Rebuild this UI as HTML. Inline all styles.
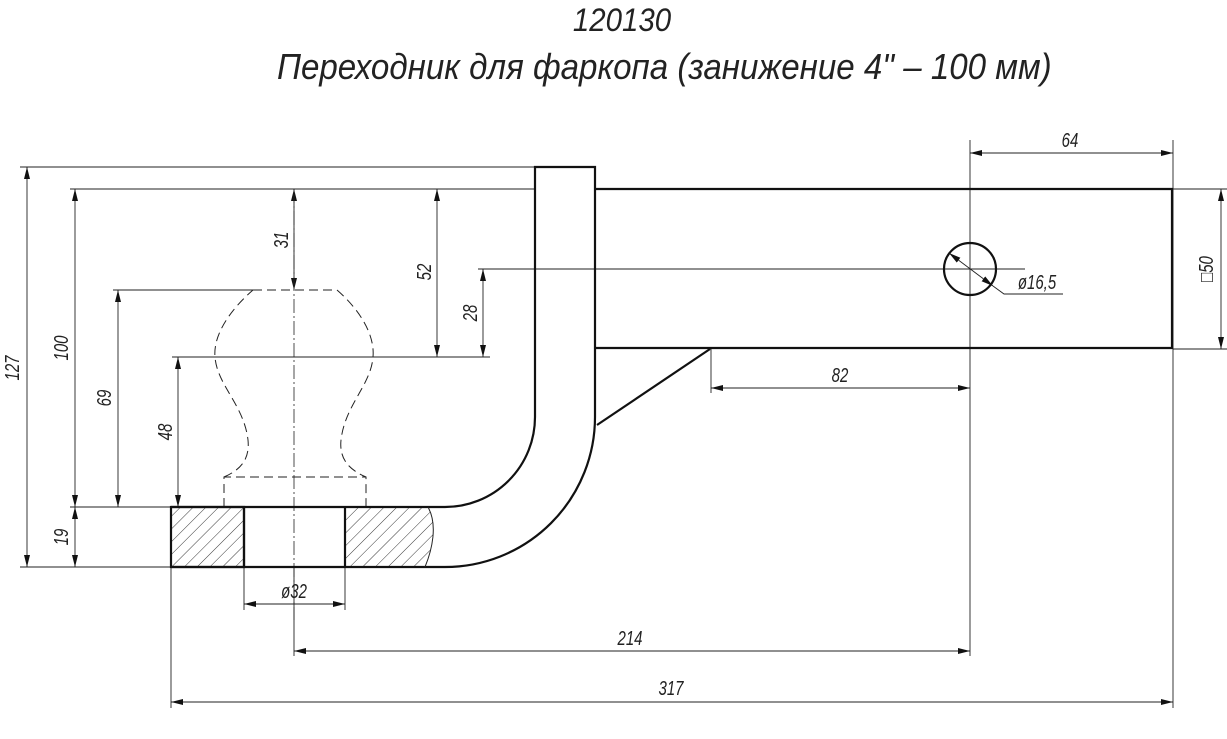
<!DOCTYPE html>
<html><head><meta charset="utf-8"><style>
html,body{margin:0;padding:0;background:#fff;}
svg{display:block;}
text{font-family:"Liberation Sans",sans-serif;font-style:italic;fill:#222;}
</style></head><body>
<svg width="1227" height="739" viewBox="0 0 1227 739" xmlns="http://www.w3.org/2000/svg">
<defs>
<pattern id="h" patternUnits="userSpaceOnUse" width="9" height="9" patternTransform="rotate(45)">
<line x1="0" y1="0" x2="0" y2="9" stroke="#222" stroke-width="0.9"/>
</pattern>
<marker id="a" viewBox="0 0 12 6" refX="12" refY="3" markerWidth="12" markerHeight="6" orient="auto-start-reverse" markerUnits="userSpaceOnUse">
<path d="M0,0 L12,3 L0,6 Z" fill="#111"/>
</marker>
</defs>
<g transform="translate(622,0) scale(0.92,1)">
<text x="0" y="31" font-size="32" text-anchor="middle">120130</text>
<text x="46" y="79" font-size="36" text-anchor="middle">Переходник для фаркопа (занижение 4" – 100 мм)</text>
</g>

<g stroke="#222" stroke-width="0.9" fill="none">
<line x1="20" y1="167" x2="535" y2="167"/>
<line x1="70" y1="189" x2="535" y2="189"/>
<line x1="113" y1="290" x2="253" y2="290"/>
<line x1="172" y1="357" x2="490" y2="357"/>
<line x1="478" y1="269" x2="1025" y2="269"/>
<line x1="70" y1="507" x2="171" y2="507"/>
<line x1="20" y1="567" x2="171" y2="567"/>
<line x1="171" y1="567" x2="171" y2="708"/>
<line x1="244" y1="567" x2="244" y2="610"/>
<line x1="345" y1="567" x2="345" y2="610"/>
<line x1="970" y1="140" x2="970" y2="656"/>
<line x1="1173" y1="140" x2="1173" y2="708"/>
<line x1="1173" y1="189" x2="1227" y2="189"/>
<line x1="1173" y1="349" x2="1227" y2="349"/>
<line x1="711" y1="349" x2="711" y2="393"/>
<line x1="294" y1="567" x2="294" y2="656"/>
</g>
<g stroke="#222" stroke-width="0.9" fill="none" marker-start="url(#a)" marker-end="url(#a)">
<line x1="27" y1="167" x2="27" y2="567"/>
<line x1="75" y1="189" x2="75" y2="507"/>
<line x1="294" y1="189" x2="294" y2="290"/>
<line x1="437" y1="189" x2="437" y2="357"/>
<line x1="483" y1="269" x2="483" y2="357"/>
<line x1="118" y1="290" x2="118" y2="507"/>
<line x1="178" y1="357" x2="178" y2="507"/>
<line x1="75" y1="507" x2="75" y2="567"/>
<line x1="970" y1="153" x2="1173" y2="153"/>
<line x1="1221" y1="189" x2="1221" y2="349"/>
<line x1="711" y1="388" x2="970" y2="388"/>
<line x1="244" y1="604" x2="345" y2="604"/>
<line x1="294" y1="651" x2="970" y2="651"/>
<line x1="171" y1="702" x2="1173" y2="702"/>
<line x1="949" y1="253" x2="993" y2="286"/>
</g>
<polyline points="993,286 1004,294 1063,294" stroke="#222" stroke-width="0.9" fill="none"/>

<line x1="294" y1="189" x2="294" y2="620" stroke="#222" stroke-width="0.8" stroke-dasharray="14,3,2,3"/>
<line x1="208" y1="357" x2="380" y2="357" stroke="#222" stroke-width="0.8" stroke-dasharray="14,3,2,3"/>
<path d="M253,290 L337,290 C360,310 375,335 373,357 C371,385 345,405 341,440 C339,460 350,470 366,477 L366,507 M224,507 L224,477 L366,477 M224,477 C240,470 250,460 248,440 C244,405 217,385 215,357 C213,335 230,310 253,290" stroke="#222" stroke-width="1" fill="none" stroke-dasharray="9,5"/>

<rect x="171" y="507" width="73" height="60" fill="url(#h)"/>
<path d="M345,507 L428,507 C438,525 432,550 425,567 L345,567 Z" fill="url(#h)"/>
<g stroke="#111" stroke-width="2.2" fill="none">
<rect x="171" y="507" width="73" height="60"/>
<line x1="244" y1="507" x2="244" y2="567"/>
<line x1="345" y1="507" x2="345" y2="567"/>
<path d="M171,507 L445,507 A90,90 0 0 0 535,417 L535,167 L595,167 L595,417 A150,150 0 0 1 445,567 L171,567"/>
<path d="M595,189 L1172,189 L1172,348 L595,348"/>
<path d="M710,349 L597,425"/>
<circle cx="970" cy="269" r="26"/>
</g>
<path d="M428,507 C438,525 432,550 425,567" stroke="#222" stroke-width="1" fill="none"/>

<g font-size="20">
<text transform="translate(19,368) rotate(-90) scale(0.75,1)" text-anchor="middle">127</text>
<text transform="translate(68,348) rotate(-90) scale(0.75,1)" text-anchor="middle">100</text>
<text transform="translate(288,240) rotate(-90) scale(0.75,1)" text-anchor="middle">31</text>
<text transform="translate(431,272) rotate(-90) scale(0.75,1)" text-anchor="middle">52</text>
<text transform="translate(477,313) rotate(-90) scale(0.75,1)" text-anchor="middle">28</text>
<text transform="translate(111,398) rotate(-90) scale(0.75,1)" text-anchor="middle">69</text>
<text transform="translate(172,432) rotate(-90) scale(0.75,1)" text-anchor="middle">48</text>
<text transform="translate(68,537) rotate(-90) scale(0.75,1)" text-anchor="middle">19</text>
<text transform="translate(1213,269) rotate(-90) scale(0.75,1)" text-anchor="middle">□50</text>
<text transform="translate(1070,147) scale(0.75,1)" text-anchor="middle">64</text>
<text transform="translate(840,382) scale(0.75,1)" text-anchor="middle">82</text>
<text transform="translate(1037,289) scale(0.75,1)" text-anchor="middle">ø16,5</text>
<text transform="translate(294,598) scale(0.75,1)" text-anchor="middle">ø32</text>
<text transform="translate(630,645) scale(0.75,1)" text-anchor="middle">214</text>
<text transform="translate(671,695) scale(0.75,1)" text-anchor="middle">317</text>
</g>
</svg>
</body></html>
